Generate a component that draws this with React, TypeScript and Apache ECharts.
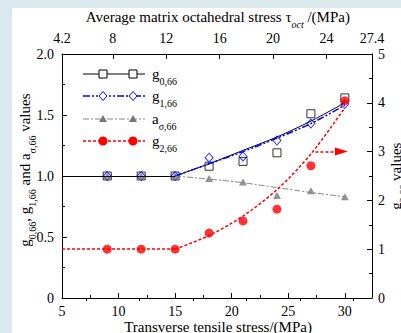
import React, { useEffect, useRef } from "react";
import * as echarts from "echarts";

// ---- data ----
const X_POINTS = [9, 12, 15, 18, 21, 24, 27, 30];
const G0_POINTS = [1.0, 1.0, 1.0, 1.08, 1.12, 1.19, 1.51, 1.64];
const G1_POINTS = [1.0, 1.0, 1.0, 1.15, 1.16, 1.29, 1.43, 1.59];
const A_POINTS = [1.0, 1.0, 1.0, 0.98, 0.95, 0.84, 0.88, 0.83];
const G2_POINTS = [1.0, 1.0, 1.0, 1.33, 1.58, 1.82, 2.71, 4.04];

const FIT_X = [15, 18, 21, 24, 27, 30];
const G0_FIT = [1.0, 1.1, 1.21, 1.32, 1.45, 1.6];
const G1_FIT = [1.0, 1.1, 1.2, 1.31, 1.43, 1.58];
const A_FIT = [1.0, 0.975, 0.945, 0.905, 0.865, 0.83];
const G2_FIT = [1.0, 1.28, 1.68, 2.22, 2.95, 3.9];
const FLAT_START = 5;

const BOTTOM_TICKS = [5, 10, 15, 20, 25, 30];
const BOTTOM_MINOR = [7.5, 12.5, 17.5, 22.5, 27.5];
const TOP_LABELS = [4.2, 8, 12, 16, 20, 24, 27.4];
const TOP_TICKS = [8, 12, 16, 20, 24];
const TOP_MINOR = [6, 10, 14, 18, 22, 26];
const ARROW_FROM = [27.4, 3];
const ARROW_TO = [29.7, 3];

const FONT = "Liberation Serif";
const FONT_CSS = '"Liberation Serif", "DejaVu Serif", serif';

const pairs = (xs: number[], ys: number[]) => xs.map((x, i) => [x, ys[i]]);

const rich = {
  m: { font: `15px ${FONT_CSS}`, fontFamily: FONT, fontSize: 15, lineHeight: 14, verticalAlign: "top", fill: "#000", color: "#000" },
  s: { font: `10px ${FONT_CSS}`, fontFamily: FONT, fontSize: 10, lineHeight: 10, verticalAlign: "bottom", fill: "#000", color: "#000" },
  si: { font: `italic 10px ${FONT_CSS}`, fontFamily: FONT, fontSize: 10, fontStyle: "italic", lineHeight: 10, verticalAlign: "bottom", fill: "#000", color: "#000" },
  z: { font: `1px ${FONT_CSS}`, fontSize: 1, lineHeight: 20 },
};

export default function App() {
  const ref = useRef<HTMLDivElement>(null);
  useEffect(() => {
    if (!ref.current) return;
    const chart = echarts.init(ref.current, null, { renderer: "svg" });

    const axisBase = {
      type: "value",
      axisLine: { show: true, onZero: false, lineStyle: { color: "#000", width: 1 } },
      splitLine: { show: false },
    };
    const tickStyle = { inside: true, lineStyle: { color: "#000", width: 1 } };
    const labelStyle = { color: "#000", fontFamily: FONT, fontSize: 14 };

    const legendRows = [
      { y: 74, text: "{m|g}{s|0,66}{z| }", kind: "square" },
      { y: 96, text: "{m|g}{s|1,66}{z| }", kind: "diamond" },
      { y: 119, text: "{m|a}{s|σ,66}{z| }", kind: "triangle" },
      { y: 141, text: "{m|g}{s|2,66}{z| }", kind: "circle" },
    ];
    const lineStyles: any = {
      square: { stroke: "#000", lineWidth: 1 },
      diamond: { stroke: "#0000ff", lineWidth: 1.5, lineDash: [7, 2, 2, 2, 2, 2] },
      triangle: { stroke: "#888", lineWidth: 1, lineDash: [6, 2, 2, 2] },
      circle: { stroke: "#ff0000", lineWidth: 1.5, lineDash: [3, 2] },
    };
    const marker = (kind: string, cx: number, cy: number) => {
      if (kind === "square")
        return { type: "rect", shape: { x: cx - 4, y: cy - 4, width: 8, height: 8 }, style: { fill: "#fff", stroke: "#000", lineWidth: 1 } };
      if (kind === "diamond")
        return { type: "polygon", shape: { points: [[cx, cy - 4.5], [cx + 4, cy], [cx, cy + 4.5], [cx - 4, cy]] }, style: { fill: "#fff", stroke: "#0000ff", lineWidth: 1 } };
      if (kind === "triangle")
        return { type: "polygon", shape: { points: [[cx, cy - 4], [cx + 4, cy + 3], [cx - 4, cy + 3]] }, style: { fill: "#777" } };
      return { type: "circle", shape: { cx, cy, r: 4.5 }, style: { fill: "#ff0000" } };
    };
    const legendGraphics: any[] = [];
    legendRows.forEach((r) => {
      legendGraphics.push({ type: "line", shape: { x1: 83, y1: r.y, x2: 145, y2: r.y }, style: lineStyles[r.kind] });
      legendGraphics.push(marker(r.kind, 103, r.y));
      legendGraphics.push(marker(r.kind, 133, r.y));
      legendGraphics.push({
        type: "text",
        x: 152,
        y: r.y + 2,
        style: { text: r.text, rich, align: "left", verticalAlign: "middle" },
      });
    });

    chart.setOption({
      animation: false,
      backgroundColor: "transparent",
      textStyle: { fontFamily: FONT },
      grid: { left: 62, right: 29, top: 54, bottom: 35, containLabel: false },
      xAxis: [
        {
          ...axisBase,
          position: "bottom",
          min: 5,
          max: 32.4,
          axisTick: { ...tickStyle, length: 5, customValues: BOTTOM_TICKS },
          axisLabel: { ...labelStyle, margin: 6, customValues: BOTTOM_TICKS },
        },
        {
          ...axisBase,
          position: "bottom",
          min: 5,
          max: 32.4,
          axisLine: { show: false },
          axisTick: { ...tickStyle, length: 3, customValues: BOTTOM_MINOR },
          axisLabel: { show: false },
        },
        {
          ...axisBase,
          position: "top",
          min: 4.2,
          max: 27.4,
          axisTick: { ...tickStyle, length: 5, customValues: TOP_TICKS },
          axisLabel: { ...labelStyle, margin: 9, customValues: TOP_LABELS },
        },
        {
          ...axisBase,
          position: "top",
          min: 4.2,
          max: 27.4,
          axisLine: { show: false },
          axisTick: { ...tickStyle, length: 3, customValues: TOP_MINOR },
          axisLabel: { show: false },
        },
      ],
      yAxis: [
        {
          ...axisBase,
          position: "left",
          min: 0,
          max: 2,
          interval: 0.5,
          axisTick: { ...tickStyle, length: 5 },
          minorTick: { show: true, splitNumber: 2, length: 3, lineStyle: { color: "#000" } },
          axisLabel: { ...labelStyle, margin: 8, formatter: (v: number) => (v === 0 ? "0" : v.toFixed(1)) },
        },
        {
          ...axisBase,
          position: "right",
          min: 0,
          max: 5,
          interval: 1,
          axisTick: { ...tickStyle, length: 5 },
          minorTick: { show: true, splitNumber: 2, length: 3, lineStyle: { color: "#000" } },
          axisLabel: { ...labelStyle, margin: 6 },
        },
      ],
      series: [
        {
          name: "g0 fit",
          type: "line",
          xAxisIndex: 0,
          yAxisIndex: 0,
          data: pairs(FIT_X, G0_FIT),
          smooth: 0.3,
          showSymbol: false,
          silent: true,
          lineStyle: { color: "#000", width: 1 },
          markLine: {
            silent: true,
            symbol: "none",
            label: { show: false },
            lineStyle: { color: "#000", width: 1, type: "solid" },
            data: [[{ coord: [FLAT_START, G0_FIT[0]] }, { coord: [FIT_X[0], G0_FIT[0]] }]],
          },
        },
        {
          name: "g1 fit",
          type: "line",
          xAxisIndex: 0,
          yAxisIndex: 0,
          data: pairs(FIT_X, G1_FIT),
          smooth: 0.3,
          showSymbol: false,
          silent: true,
          lineStyle: { color: "#0000ff", width: 1.5, type: [7, 2, 2, 2, 2, 2] },
        },
        {
          name: "a fit",
          type: "line",
          xAxisIndex: 0,
          yAxisIndex: 0,
          data: pairs(FIT_X, A_FIT),
          smooth: 0.3,
          showSymbol: false,
          silent: true,
          lineStyle: { color: "#888", width: 1, type: [6, 2, 2, 2] },
        },
        {
          name: "g2 fit",
          type: "line",
          xAxisIndex: 0,
          yAxisIndex: 1,
          data: pairs(FIT_X, G2_FIT),
          smooth: 0.3,
          showSymbol: false,
          silent: true,
          lineStyle: { color: "#ff0000", width: 1.5, type: [3, 2] },
          markLine: {
            silent: true,
            label: { show: false },
            lineStyle: { color: "#ff0000", width: 1.5, type: [3, 2] },
            data: [
              [
                { coord: [FLAT_START, G2_FIT[0]], symbol: "none" },
                { coord: [FIT_X[0], G2_FIT[0]], symbol: "none" },
              ],
              [
                { coord: ARROW_FROM, symbol: "none" },
                { coord: ARROW_TO, symbol: "triangle", symbolSize: [8, 13] },
              ],
            ],
          },
        },
        {
          name: "g0,66",
          type: "scatter",
          xAxisIndex: 0,
          yAxisIndex: 0,
          data: pairs(X_POINTS, G0_POINTS),
          symbol: "rect",
          symbolSize: 8,
          itemStyle: { color: "rgba(255,255,255,0)", borderColor: "#000", borderWidth: 1 },
        },
        {
          name: "g1,66",
          type: "scatter",
          xAxisIndex: 0,
          yAxisIndex: 0,
          data: pairs(X_POINTS, G1_POINTS),
          symbol: "diamond",
          symbolSize: [8, 9],
          itemStyle: { color: "rgba(255,255,255,0)", borderColor: "#0000ff", borderWidth: 1 },
        },
        {
          name: "aσ,66",
          type: "scatter",
          xAxisIndex: 0,
          yAxisIndex: 0,
          data: pairs(X_POINTS, A_POINTS),
          symbol: "triangle",
          symbolSize: [8, 7],
          itemStyle: { color: "#777" },
        },
        {
          name: "g2,66",
          type: "scatter",
          xAxisIndex: 0,
          yAxisIndex: 1,
          data: pairs(X_POINTS, G2_POINTS),
          symbol: "circle",
          symbolSize: 9,
          itemStyle: { color: "#ff0000" },
        },
      ],
      graphic: [
        ...legendGraphics,
        {
          type: "text",
          x: 218,
          y: 19,
          style: {
            text: "{m|Average matrix octahedral stress τ}{si|oct}{m| /(MPa)}{z| }",
            rich,
            align: "center",
            verticalAlign: "middle",
          },
        },
        {
          type: "text",
          x: 218,
          y: 327,
          style: { text: "Transverse tensile stress/(MPa)", font: `15px ${FONT_CSS}`, fill: "#000", align: "center", verticalAlign: "middle" },
        },
        {
          type: "text",
          x: 27,
          y: 170,
          rotation: Math.PI / 2,
          style: {
            text: "{m|g}{s|0,66}{m|, g}{s|1,66}{m| and a}{s|σ,66}{m| values}{z| }",
            rich,
            align: "center",
            verticalAlign: "middle",
          },
        },
        {
          type: "text",
          x: 398,
          y: 176,
          rotation: Math.PI / 2,
          style: {
            text: "{m|g}{s|2,66}{m| values}{z| }",
            rich,
            align: "center",
            verticalAlign: "middle",
          },
        },
      ],
    });
    return () => chart.dispose();
  }, []);

  return (
    <div style={{ position: "absolute", left: 0, top: 0, width: 401, height: 333, background: "#dbe8ed", overflow: "hidden" }}>
      <div style={{ position: "absolute", left: 12, top: 8, right: 0, bottom: 0, background: "#ffffff" }} />
      <div ref={ref} style={{ position: "absolute", left: 0, top: 0, width: 401, height: 333 }} />
    </div>
  );
}
